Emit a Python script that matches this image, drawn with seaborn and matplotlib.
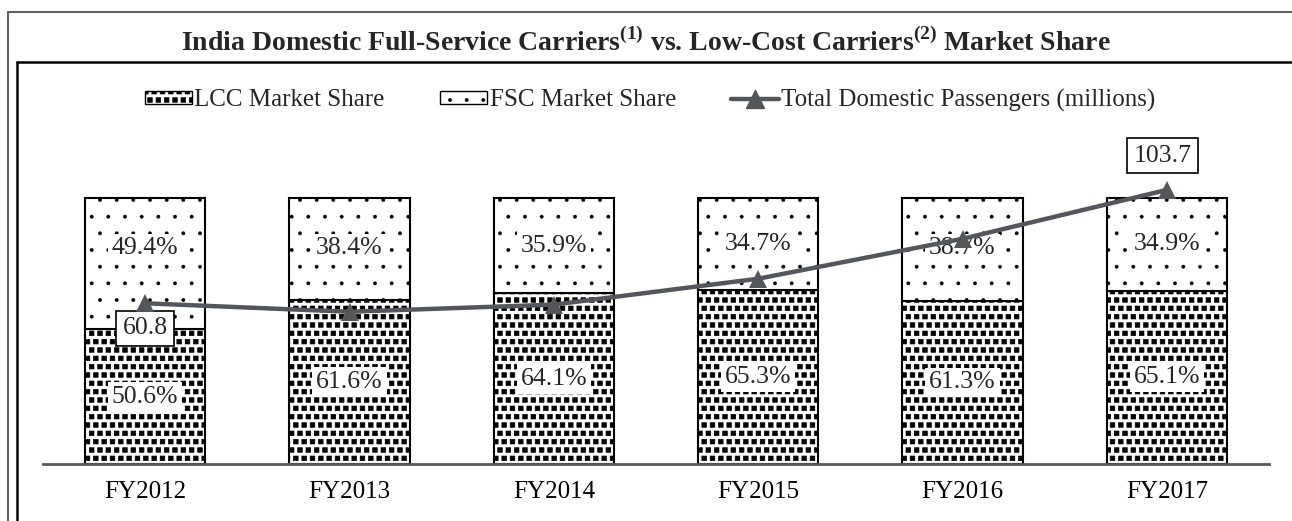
import numpy as np
import pandas as pd
import seaborn as sns
import matplotlib as mpl
import matplotlib.pyplot as plt
import matplotlib.hatch as mhatch
from matplotlib.path import Path
from matplotlib.lines import Line2D
from matplotlib.patches import Patch

# data
years = ["FY2012", "FY2013", "FY2014", "FY2015", "FY2016", "FY2017"]
lcc_share = [50.6, 61.6, 64.1, 65.3, 61.3, 65.1]
fsc_share = [49.4, 38.4, 35.9, 34.7, 38.7, 34.9]
passengers = [60.8, 57.6, 60.3, 70.1, 85.2, 103.7]


# '*' hatch redrawn as small filled squares (closer to the Excel pattern)
class SquareDots(mhatch.Shapes):
    size = 0.55
    filled = True

    def __init__(self, hatch, density):
        self.num_rows = hatch.count("*") * density
        self.shape_vertices = np.array([[-.5, -.5], [.5, -.5], [.5, .5], [-.5, .5], [-.5, -.5]])
        self.shape_codes = np.array([Path.MOVETO, Path.LINETO, Path.LINETO, Path.LINETO,
                                     Path.CLOSEPOLY], dtype=Path.code_type)
        super().__init__(hatch, density)


mhatch._hatch_types = [SquareDots if t is mhatch.Stars else t for t in mhatch._hatch_types]

sns.set_theme(style="white")
plt.rcParams["font.family"] = ["Liberation Serif", "DejaVu Serif"]
plt.rcParams["mathtext.fontset"] = "custom"
plt.rcParams["mathtext.rm"] = "Liberation Serif:bold"
plt.rcParams["mathtext.bf"] = "Liberation Serif:bold"

df = pd.DataFrame({"year": years, "lcc": lcc_share, "fsc": fsc_share, "pax": passengers})

fig = plt.figure(figsize=(12.92, 5.21), dpi=100)
W, H = 1292, 521
ax = fig.add_axes([43 / W, 1 - 464 / H, (1269 - 43) / W, (464 - 150) / H])


def hatch_lw(patches, lw):
    for p in patches:
        if hasattr(p, "set_hatch_linewidth"):
            p.set_hatch_linewidth(lw)


# LCC bars (dense squares)
sns.barplot(data=df, x="year", y="lcc", color="white", edgecolor="black",
            linewidth=1.5, hatch="**", width=0.59, ax=ax, zorder=2)
n_lcc = len(ax.patches)
hatch_lw(ax.patches[:n_lcc], 0.5)
# FSC bars stacked on top (sparse dots)
sns.barplot(data=df, x="year", y="fsc", bottom=df["lcc"], color="white",
            edgecolor="black", linewidth=1.5, hatch=".", width=0.59, ax=ax, zorder=2)
hatch_lw(ax.patches[n_lcc:], 0.3)

ax.set_ylim(0, 118)
ax.set_xlim(-0.5, len(years) - 0.5)
ax.set_xlabel("")
ax.set_ylabel("")
ax.set_yticks([])
for s in ["top", "right", "left"]:
    ax.spines[s].set_visible(False)
ax.spines["bottom"].set_color("#595959")
ax.spines["bottom"].set_linewidth(2)
ax.tick_params(axis="x", length=0, pad=12, labelsize=18, colors="black")

box = dict(boxstyle="square,pad=0.15", fc="white", ec="none")
for i in range(len(years)):
    ax.text(i, lcc_share[i] / 2, f"{lcc_share[i]:.1f}%", ha="center", va="center",
            fontsize=18.5, bbox=box, zorder=5)
    # keep FSC labels in the upper part of the bar, clear of the line
    fy = max(lcc_share[i] + fsc_share[i] / 2, 81)
    ax.text(i, fy, f"{fsc_share[i]:.1f}%", ha="center",
            va="center", fontsize=18.5, bbox=box, zorder=5)

# passengers line on hidden secondary axis
ax2 = ax.twinx()
sns.lineplot(data=df, x="year", y="pax", color="#53575c", linewidth=3.2, marker="^",
             markersize=13, markeredgewidth=0, ax=ax2, sort=False, zorder=4)
ax2.set_ylim(0, 118.8)
ax2.set_ylabel("")
ax2.set_yticks([])
for s in ax2.spines.values():
    s.set_visible(False)

lbox = dict(boxstyle="square,pad=0.25", fc="white", ec="black", lw=1.2)
ax2.annotate(f"{passengers[0]:.1f}", (0, passengers[0]), xytext=(0, -18),
             textcoords="offset points", ha="center", va="center", fontsize=18.5, bbox=lbox)
ax2.annotate(f"{passengers[-1]:.1f}", (len(years) - 1, passengers[-1]), xytext=(-3, 24.5),
             textcoords="offset points", ha="center", va="center", fontsize=18.5, bbox=lbox)

# legend
lcc_h = Patch(facecolor="white", edgecolor="black", hatch="**", label="LCC Market Share")
fsc_h = Patch(facecolor="white", edgecolor="black", hatch=".", label="FSC Market Share")
handles = [
    lcc_h, fsc_h,
    Line2D([0], [0], color="#53575c", lw=3.2, marker="^", markersize=13,
           label="Total Domestic Passengers (millions)"),
]
leg = fig.legend(handles=handles, loc="center", bbox_to_anchor=(650 / W, 1 - 100 / H), ncol=3,
                 frameon=False, fontsize=18, handlelength=1.9, handleheight=0.4,
                 handletextpad=0.1, columnspacing=2.2)
lp = leg.get_patches()
hatch_lw(lp[:1], 0.5)
hatch_lw(lp[1:], 0.3)

fig.text(646 / W, 1 - 42 / H,
         r"India Domestic Full-Service Carriers$^{(1)}$ vs. Low-Cost Carriers$^{(2)}$ Market Share",
         ha="center", va="center", fontsize=20, fontweight="bold")

# frame lines
fig.add_artist(Line2D([8 / W, 8 / W], [0, 1 - 12 / H], color="#606060", lw=1.5))
fig.add_artist(Line2D([8 / W, 1], [1 - 12 / H, 1 - 12 / H], color="#606060", lw=1.5))
fig.add_artist(Line2D([17 / W, 17 / W], [0, 1 - 62 / H], color="black", lw=1.8))
fig.add_artist(Line2D([17 / W, 1], [1 - 62 / H, 1 - 62 / H], color="black", lw=1.8))

fig.savefig("out.png", dpi=100, facecolor="white")
